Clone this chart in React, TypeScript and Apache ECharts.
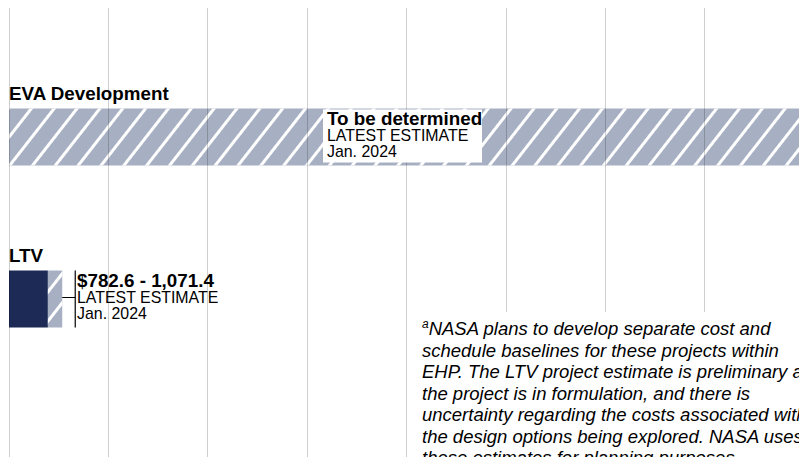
import React, { useEffect, useRef } from "react";
import * as echarts from "echarts";

const categories = ["EVA Development", "LTV"];
const lowEstimates: (number | null)[] = [null, 782.6];
const highEstimates: (number | null)[] = [null, 1071.4];
const estimateLabels = ["To be determined", "$782.6 - 1,071.4"];
const estimateTypes = ["LATEST ESTIMATE", "LATEST ESTIMATE"];
const estimateDates = ["Jan. 2024", "Jan. 2024"];
const footnoteMark = "a";
const footnoteLines = [
  "NASA plans to develop separate cost and",
  "schedule baselines for these projects within",
  "EHP. The LTV project estimate is preliminary as",
  "the project is in formulation, and there is",
  "uncertainty regarding the costs associated with",
  "the design options being explored. NASA uses",
  "these estimates for planning purposes.",
];
const axisMin = 0;
const axisMax = 15900;
const tickInterval = 2000;

const FONT = "'Liberation Sans', Arial, Helvetica, sans-serif";
const NAVY = "#1c2a55";
const HATCH = "#a7b0c2";
const BAR_H = 57;
const BOLD_FS = 18.8;
const REG_FS = 15.9;

export default function App() {
  const ref = useRef<HTMLDivElement>(null);
  useEffect(() => {
    if (!ref.current) return;
    const chart = echarts.init(ref.current, null, { renderer: "svg" });

    const rangeValues = categories.map((_, i) => {
      const lo = lowEstimates[i];
      const hi = highEstimates[i];
      if (lo == null || hi == null) return axisMax;
      return +(hi - lo).toFixed(1);
    });
    const navyValues = categories.map((_, i) => lowEstimates[i] ?? 0);

    const base = (baseline: number, fs: number) => baseline - 0.3465 * fs;

    const renderItem = (params: any, api: any) => {
      const i = params.dataIndex;
      const hi = highEstimates[i];
      const p = api.coord([api.value(0), api.value(1)]);
      const p0 = api.coord([0, api.value(1)]);
      const yc = p[1];
      const top = yc - BAR_H / 2;
      const bottom = yc + BAR_H / 2;
      const children: any[] = [
        {
          type: "text",
          style: {
            text: categories[i],
            x: p0[0],
            y: base(top - 8.5, BOLD_FS),
            fontSize: BOLD_FS,
            fontWeight: "bold",
            fontFamily: FONT,
            fill: "#000",
            align: "left",
            verticalAlign: "middle",
          },
        },
      ];
      let tx: number;
      if (hi == null) {
        const bx = p0[0] + 314;
        tx = bx + 4;
        children.push({
          type: "rect",
          shape: { x: bx, y: top + 1, width: 159, height: 53 },
          style: { fill: "#fff" },
        });
      } else {
        const xe = p[0];
        const xv = xe + 13;
        tx = xv + 1.8;
        children.push(
          {
            type: "line",
            shape: { x1: xe, y1: yc - 1.5, x2: xv, y2: yc - 1.5 },
            style: { stroke: "#000", lineWidth: 1 },
          },
          {
            type: "line",
            shape: { x1: xv, y1: top, x2: xv, y2: bottom },
            style: { stroke: "#000", lineWidth: 1.2 },
          }
        );
      }
      const lines = [
        { t: estimateLabels[i], fs: BOLD_FS, w: "bold", b: top + 16.5 },
        { t: estimateTypes[i], fs: REG_FS, w: "normal", b: top + 33 },
        { t: estimateDates[i], fs: REG_FS, w: "normal", b: top + 48.5 },
      ];
      lines.forEach((l) => {
        children.push({
          type: "text",
          style: {
            text: l.t,
            x: tx,
            y: base(l.b, l.fs),
            fontSize: l.fs,
            fontWeight: l.w,
            fontFamily: FONT,
            fill: "#000",
            align: "left",
            verticalAlign: "middle",
          },
        });
      });
      return { type: "group", children };
    };

    const footText =
      "{sup|" + footnoteMark + "}{t|" + footnoteLines[0] + "}\n" +
      footnoteLines.slice(1).map((l) => "{t|" + l + "}").join("\n");

    chart.setOption({
      animation: false,
      grid: [
        { left: 9, right: 0, top: 8, bottom: 0 },
        { left: 9, right: 0, top: 56, height: 324 },
      ],
      xAxis: [
        {
          type: "value",
          gridIndex: 0,
          min: axisMin,
          max: axisMax,
          interval: tickInterval,
          z: 3,
          axisLine: { show: false },
          axisTick: { show: false },
          axisLabel: { show: false },
          splitLine: {
            show: true,
            showMaxLine: false,
            lineStyle: { color: "rgba(0,0,0,0.19)", width: 1 },
          },
        },
        {
          type: "value",
          gridIndex: 1,
          min: axisMin,
          max: axisMax,
          interval: tickInterval,
          show: false,
          splitLine: { show: false },
        },
      ],
      yAxis: [
        { type: "value", gridIndex: 0, min: 0, max: 1, show: false, splitLine: { show: false } },
        {
          type: "category",
          gridIndex: 1,
          data: categories,
          inverse: true,
          show: false,
        },
      ],
      series: [
        {
          type: "bar",
          name: "Low estimate",
          xAxisIndex: 1,
          yAxisIndex: 1,
          stack: "cost",
          barWidth: BAR_H,
          z: 2,
          itemStyle: { color: NAVY },
          data: navyValues,
        },
        {
          type: "bar",
          name: "Range",
          xAxisIndex: 1,
          yAxisIndex: 1,
          stack: "cost",
          barWidth: BAR_H,
          z: 2,
          itemStyle: {
            color: HATCH,
            decal: {
              symbol: "rect",
              symbolSize: 1,
              color: "#ffffff",
              dashArrayX: [1, 0],
              dashArrayY: [2.8, 14.5],
              rotation: (-52 * Math.PI) / 180,
            },
          },
          data: rangeValues,
        },
        {
          type: "custom",
          xAxisIndex: 1,
          yAxisIndex: 1,
          z: 10,
          clip: false,
          renderItem,
          data: categories.map((_, i) => [highEstimates[i] ?? 0, i]),
          encode: { x: 0, y: 1 },
        },
      ],
      graphic: [
        {
          type: "rect",
          left: 408,
          top: 312,
          z: 100,
          shape: { width: 400, height: 150 },
          style: { fill: "#fff" },
        },
        {
          type: "text",
          left: 422,
          top: 318,
          z: 101,
          style: {
            text: footText,
            fill: "#000",
            rich: {
              t: { fontSize: 18.5, fontStyle: "italic", fontFamily: FONT, lineHeight: 21.5, fill: "#000" },
              sup: { fontSize: 12, fontStyle: "italic", fontFamily: FONT, lineHeight: 21.5, verticalAlign: "top", fill: "#000" },
            },
          },
        },
      ],
    });
    return () => chart.dispose();
  }, []);
  return (
    <div
      ref={ref}
      style={{ position: "fixed", left: 0, top: 0, width: 799, height: 457, background: "#fff" }}
    />
  );
}
